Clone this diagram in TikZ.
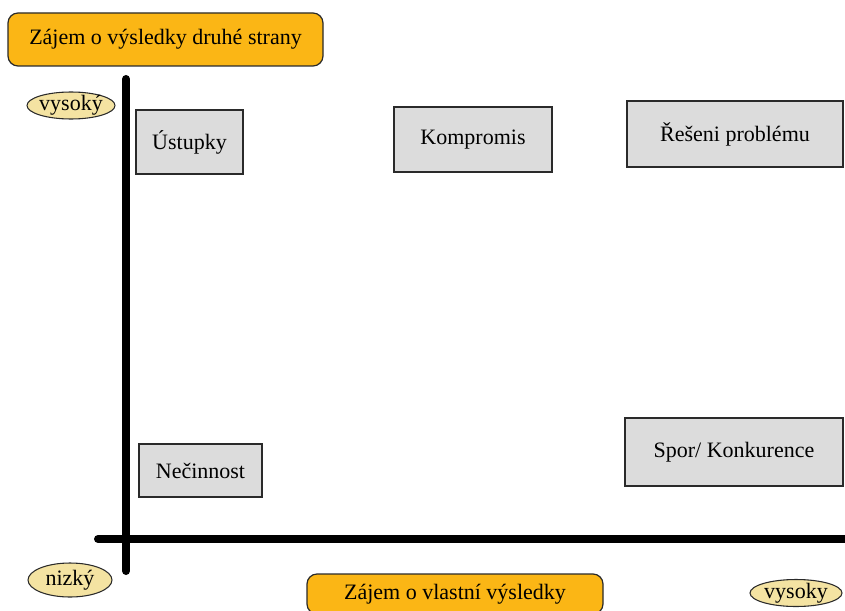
\documentclass[tikz,border=0pt]{standalone}
\usepackage{fontspec}
\setmainfont{Liberation Serif}
\usetikzlibrary{shapes.geometric}
\definecolor{headfill}{HTML}{FBB615}
\definecolor{boxfill}{HTML}{DCDCDC}
\definecolor{ovalfill}{HTML}{F4E3A2}
\definecolor{edge}{HTML}{2A2A2A}
\begin{document}
\begin{tikzpicture}[x=0.75pt,y=-0.75pt,
  every node/.style={font=\fontsize{16.5}{19}\selectfont, inner sep=0pt},
  stylebox/.style={draw=edge, line width=0.9pt, fill=boxfill, rectangle},
  headbox/.style={draw=edge, line width=0.9pt, fill=headfill, rectangle, rounded corners=7.5pt},
  oval/.style={draw=edge, line width=0.8pt, fill=ovalfill, ellipse},
  axis/.style={line width=6pt, line cap=round, black}]
\clip (0,0) rectangle (845,610);
\useasboundingbox (0,0) rectangle (845,610);

% axis titles
\node[headbox, minimum width=236.25pt, minimum height=39.75pt] (ytitle) at (165.5,39.5) {Zájem o výsledky druhé strany};
\node[headbox, minimum width=222pt, minimum height=30pt] (xtitle) at (455,594) {\raisebox{-1pt}{Zájem o vlastní výsledky}};

% axes
\coordinate (ytop) at (126,79);
\coordinate (ybot) at (126,571);
\coordinate (xleft) at (98,539);
\coordinate (xright) at (850,539);
\draw[axis] (ytop) -- (ybot);
\draw[axis] (xleft) -- (xright);

% scale markers
\node[oval, minimum width=66pt, minimum height=20.25pt, label={[inner sep=0pt]center:vysoký}] (yhigh) at (71,105.5) {};
\node[oval, minimum width=63pt, minimum height=25.5pt, label={[inner sep=0pt]center:nizký}] (low) at (70,580) {};
\node[oval, minimum width=69pt, minimum height=20.25pt, label={[inner sep=0pt]center:vysoky}] (xhigh) at (796,593) {};

% strategies
\node[stylebox, minimum width=80.25pt, minimum height=48pt] (ustupky) at (189.5,142) {Ústupky};
\node[stylebox, minimum width=118.5pt, minimum height=48.75pt] (kompromis) at (473,139.5) {Kompromis};
\node[stylebox, minimum width=162pt, minimum height=49.5pt] (reseni) at (735,134) {\raisebox{1pt}{Řešeni problému}};
\node[stylebox, minimum width=92.25pt, minimum height=39.75pt] (necinnost) at (200.5,470.5) {Nečinnost};
\node[stylebox, minimum width=163.5pt, minimum height=51pt] (spor) at (734,452) {Spor/ Konkurence};
\end{tikzpicture}
\end{document}
